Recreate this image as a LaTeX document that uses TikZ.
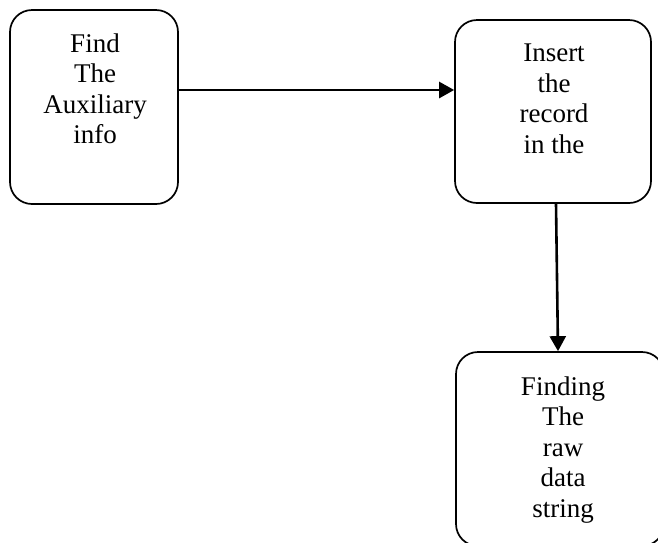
\documentclass[tikz,border=0pt]{standalone}
\usepackage{fontspec}
\setmainfont{Liberation Serif}
\usetikzlibrary{arrows.meta}

\begin{document}
\begin{tikzpicture}[x=1pt,y=-1pt]
\tikzstyle{flowbox}=[
	rectangle,
	rounded corners=22pt,
	draw,
	line width=1.7pt,
	inner sep=0pt ]
\tikzstyle{flowtext}=[
	anchor=north,
	align=center,
	inner sep=0pt,
	font=\fontsize{27}{30.5}\selectfont ]
\tikzstyle{flowarrow}=[
	line width=2.6pt,
	-{Triangle[length=15pt,width=16pt]} ]
\useasboundingbox (0,0) rectangle (658,542);
\node[flowbox, minimum width=168pt, minimum height=194pt] (find) at (94,107) {};
\node[flowbox, minimum width=196pt, minimum height=183pt] (insert) at (553,111.5) {};
\node[flowbox, minimum width=208pt, minimum height=194pt] (finding) at (560,449) {};
\node[flowtext] (findtext) at (95,33.5) {Find\\The\\Auxiliary\\info};
\node[flowtext] (inserttext) at (554,44) {Insert\\the\\record\\in the};
\node[flowtext] (findingtext) at (563,376.5) {Finding\\The\\raw\\data\\string};
\coordinate (link) at ([yshift=17pt]find.east);
\draw[flowarrow] (link) -- (link -| insert.west);
\draw[flowarrow] ([xshift=3pt]insert.south) -- ([xshift=-2pt]finding.north);
\end{tikzpicture}
\end{document}
